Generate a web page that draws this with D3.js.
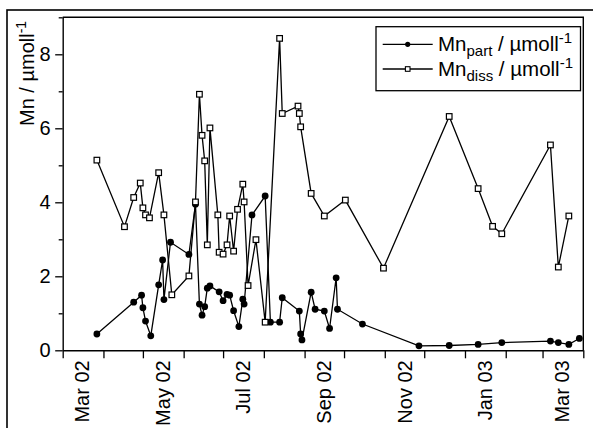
<!DOCTYPE html>
<html>
<head>
<meta charset="utf-8">
<script src="https://cdn.jsdelivr.net/npm/d3@7"></script>
<style>
  html, body { margin: 0; padding: 0; background: #fff; }
  svg { display: block; font-family: "Liberation Sans", Arial, sans-serif; }
</style>
</head>
<body>
<div id="chart"></div>
<script>
// Mn particulate / dissolved, Mar 2002 - Mar 2003
var partDates = ["2002-03-27","2002-04-24","2002-04-30","2002-05-01","2002-05-03","2002-05-07",
  "2002-05-13","2002-05-16","2002-05-17","2002-05-22","2002-06-05","2002-06-10","2002-06-13",
  "2002-06-15","2002-06-17","2002-06-19","2002-06-21","2002-06-28","2002-07-01","2002-07-04",
  "2002-07-06","2002-07-09","2002-07-13","2002-07-16","2002-07-17","2002-07-23","2002-08-02",
  "2002-08-06","2002-08-13","2002-08-15","2002-08-28","2002-08-29","2002-08-30","2002-09-06",
  "2002-09-09","2002-09-16","2002-09-20","2002-09-25","2002-09-26","2002-10-15","2002-11-27",
  "2002-12-20","2003-01-11","2003-01-29","2003-03-07","2003-03-13","2003-03-21","2003-03-29"];
var partValues = [0.44,1.30,1.49,1.15,0.79,0.39,
  1.77,2.44,1.37,2.92,2.59,3.95,1.25,
  0.95,1.18,1.68,1.74,1.58,1.34,1.51,
  1.49,1.07,0.64,1.38,1.25,3.66,4.17,
  0.76,0.76,1.42,1.06,0.44,0.28,1.57,
  1.11,1.06,0.59,1.96,1.11,0.71,0.12,
  0.13,0.16,0.21,0.25,0.21,0.16,0.32];

var dissDates = ["2002-03-27","2002-04-17","2002-04-24","2002-04-29","2002-05-01","2002-05-03",
  "2002-05-06","2002-05-13","2002-05-17","2002-05-23","2002-06-05","2002-06-10","2002-06-13",
  "2002-06-15","2002-06-17","2002-06-19","2002-06-21","2002-06-27","2002-06-28","2002-07-01",
  "2002-07-04","2002-07-06","2002-07-09","2002-07-12","2002-07-16","2002-07-17","2002-07-20",
  "2002-07-26","2002-08-02","2002-08-13","2002-08-15","2002-08-27","2002-08-28","2002-08-29",
  "2002-09-06","2002-09-16","2002-10-02","2002-10-31","2002-12-20","2003-01-11","2003-01-22",
  "2003-01-29","2003-03-07","2003-03-13","2003-03-21"];
var dissValues = [5.14,3.34,4.13,4.52,3.85,3.66,
  3.58,4.80,3.66,1.50,2.01,4.01,6.92,
  5.81,5.12,2.85,6.01,3.66,2.65,2.60,
  2.85,3.63,2.68,3.81,4.49,4.01,1.75,
  2.99,0.76,8.43,6.40,6.60,6.40,6.04,
  4.24,3.63,4.06,2.22,6.32,4.37,3.35,
  3.15,5.55,2.25,3.63];

var xDomain = ["2002-03-01","2003-04-01"];
var yMajorTicks = [0,2,4,6,8];
var yMinorTicks = [1,3,5,7,9];
var monthLabels = ["2002-03-01","2002-05-01","2002-07-01","2002-09-01","2002-11-01","2003-01-01","2003-03-01"];

var width = 593, height = 428;
var margin = {top: 17.3, right: 9.7, bottom: 77.7, left: 62.7};
var parse = d3.timeParse("%Y-%m-%d");

var svg = d3.select("#chart").append("svg")
  .attr("width", width)
  .attr("height", height);

// outer frame (cut off at right and bottom)
svg.append("rect")
  .attr("x", 7).attr("y", 10)
  .attr("width", 700).attr("height", 600)
  .attr("fill", "#fff")
  .attr("stroke", "#000")
  .attr("stroke-width", 1.6);

var x = d3.scaleTime()
  .domain(xDomain.map(parse))
  .range([margin.left, width - margin.right]);

var y = d3.scaleLinear()
  .domain([0, 9])
  .range([height - margin.bottom, margin.top]);

// plot box top / right
svg.append("path")
  .attr("d", "M" + x.range()[0] + "," + y(9) + "H" + x.range()[1] + "V" + y(0))
  .attr("fill", "none")
  .attr("stroke", "#000")
  .attr("stroke-width", 1.4);

// x axis: a tick every month, labels in the middle of every 2nd month
var months = d3.timeMonth.range(x.domain()[0], d3.timeDay.offset(x.domain()[1], 1));
var xAxis = svg.append("g")
  .attr("transform", "translate(0," + y(0) + ")")
  .call(d3.axisBottom(x).tickValues(months).tickSize(8).tickSizeOuter(0).tickFormat(""));
xAxis.select(".domain").attr("stroke-width", 1.4);
xAxis.selectAll(".tick line").attr("stroke-width", 1.3);

svg.append("g").selectAll("text")
  .data(monthLabels.map(parse))
  .enter()
    .append("text")
      .attr("transform", function(d) {
        return "translate(" + x(d3.timeDay.offset(d, 15)) + "," + (y(0) + 10) + ") rotate(-90)";
      })
      .attr("text-anchor", "end")
      .attr("dy", "0.35em")
      .attr("font-size", 20)
      .text(d3.timeFormat("%b %y"));

// y axis
var yAxis = svg.append("g")
  .attr("transform", "translate(" + x.range()[0] + ",0)")
  .call(d3.axisLeft(y).tickValues(yMajorTicks).tickSize(7.5).tickSizeOuter(0).tickPadding(4.5));
yAxis.select(".domain").attr("stroke-width", 1.4);
yAxis.selectAll(".tick line").attr("stroke-width", 1.3);
yAxis.selectAll(".tick text").attr("font-size", 20).attr("font-family", null);

var yMinor = svg.append("g")
  .attr("transform", "translate(" + x.range()[0] + ",0)")
  .call(d3.axisLeft(y).tickValues(yMinorTicks).tickSize(4).tickSizeOuter(0).tickFormat(""));
yMinor.select(".domain").remove();
yMinor.selectAll(".tick line").attr("stroke-width", 1.3);

// y axis title
var yTitle = svg.append("text")
  .attr("transform", "translate(34,126) rotate(-90)")
  .attr("font-size", 20);
yTitle.append("tspan").text("Mn / \u00b5moll");
yTitle.append("tspan").attr("font-size", 14).attr("dy", -8).text("-1");

// series
var part = partDates.map(function(d, i) { return {x: parse(d), y: partValues[i]}; });
var diss = dissDates.map(function(d, i) { return {x: parse(d), y: dissValues[i]}; });

var line = d3.line()
  .x(function(d) { return x(d.x); })
  .y(function(d) { return y(d.y); });

svg.append("path").datum(diss)
  .attr("d", line).attr("fill", "none").attr("stroke", "#000").attr("stroke-width", 1.3);
svg.append("path").datum(part)
  .attr("d", line).attr("fill", "none").attr("stroke", "#000").attr("stroke-width", 1.3);

svg.append("g").selectAll("circle")
  .data(part)
  .enter()
    .append("circle")
      .attr("cx", function(d) { return x(d.x); })
      .attr("cy", function(d) { return y(d.y); })
      .attr("r", 3.4)
      .attr("fill", "#000");

svg.append("g").selectAll("rect")
  .data(diss)
  .enter()
    .append("rect")
      .attr("x", function(d) { return x(d.x) - 2.8; })
      .attr("y", function(d) { return y(d.y) - 2.8; })
      .attr("width", 5.6)
      .attr("height", 5.6)
      .attr("fill", "#fff")
      .attr("stroke", "#000")
      .attr("stroke-width", 1.2);

// legend
var legend = svg.append("g").attr("transform", "translate(376,26.7)");
legend.append("rect")
  .attr("width", 204.5).attr("height", 64)
  .attr("fill", "#fff").attr("stroke", "#000").attr("stroke-width", 1.3);

var items = [
  {sub: "part", marker: "circle", y: 17.6},
  {sub: "diss", marker: "square", y: 42.3}
];
items.forEach(function(it) {
  legend.append("line")
    .attr("x1", 6.7).attr("x2", 56.7)
    .attr("y1", it.y).attr("y2", it.y)
    .attr("stroke", "#000").attr("stroke-width", 1.3);
  if (it.marker == "circle") {
    legend.append("circle").attr("cx", 31.7).attr("cy", it.y).attr("r", 2.6).attr("fill", "#000");
  } else {
    legend.append("rect").attr("x", 29.4).attr("y", it.y - 2.3).attr("width", 4.6).attr("height", 4.6)
      .attr("fill", "#fff").attr("stroke", "#000").attr("stroke-width", 1.1);
  }
  var t = legend.append("text")
    .attr("x", 62).attr("y", it.y)
    .attr("dy", "0.35em")
    .attr("font-size", 20.5);
  t.append("tspan").text("Mn");
  t.append("tspan").attr("font-size", 15).attr("dy", 5).text(it.sub);
  t.append("tspan").attr("dy", -5).text(" / \u00b5moll");
  t.append("tspan").attr("font-size", 15).attr("dy", -8).text("-1");
});
</script>
</body>
</html>
